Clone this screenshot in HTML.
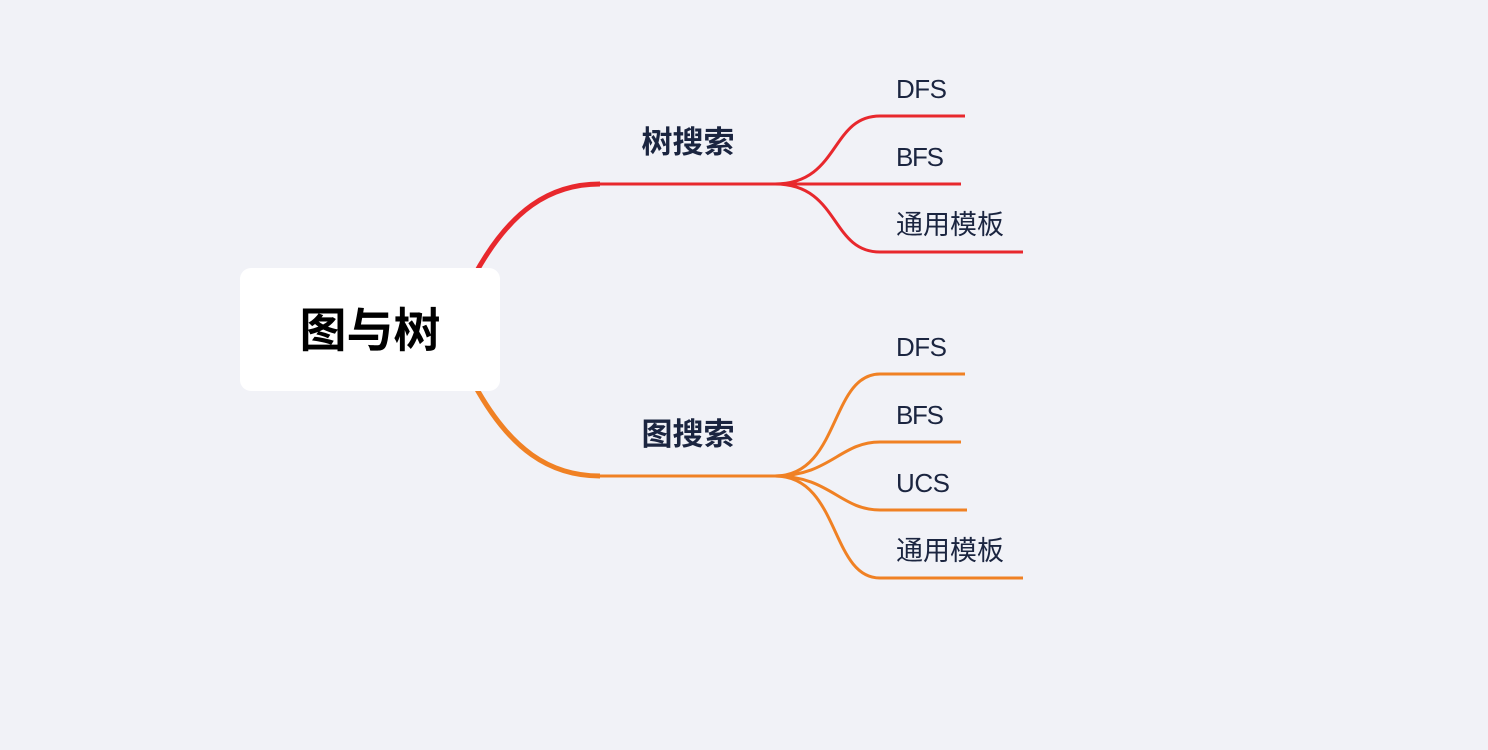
<!DOCTYPE html>
<html><head><meta charset="utf-8"><style>
html,body{margin:0;padding:0;background:#f1f2f7;width:1488px;height:750px;overflow:hidden}
svg{display:block}
text{font-family:"Liberation Sans","Noto Sans CJK SC",sans-serif;fill:#1b2540}
</style></head><body>
<svg width="1488" height="750" viewBox="0 0 1488 750">
<g fill="none" stroke-linecap="butt">
<path d="M474 276 C510 210 550 184 600 184" stroke="#e8282d" stroke-width="5"/>
<path d="M598 184 L780 184" stroke="#e8282d" stroke-width="3"/>
<g stroke="#e8282d" stroke-width="3">
<path d="M775 184 C840 184 830 116 880 116 L965 116"/>
<path d="M775 184 L961 184"/>
<path d="M775 184 C840 184 830 252 880 252 L1023 252"/>
</g>
<path d="M474 384 C510 450 550 476 600 476" stroke="#f08124" stroke-width="5"/>
<path d="M598 476 L780 476" stroke="#f08124" stroke-width="3"/>
<g stroke="#f08124" stroke-width="3">
<path d="M775 476 C840 476 830 374 880 374 L965 374"/>
<path d="M775 476 C830 476 840 442 880 442 L961 442"/>
<path d="M775 476 C830 476 840 510 880 510 L967 510"/>
<path d="M775 476 C840 476 830 578 880 578 L1023 578"/>
</g>
</g>
<rect x="240" y="268" width="260" height="123" rx="11" fill="#fff"/>
<text x="370" y="347" text-anchor="middle" font-size="47" font-weight="bold" style="fill:#000">图与树</text>
<text x="688" y="153" text-anchor="middle" font-size="31" font-weight="bold">树搜索</text>
<text x="688" y="445" text-anchor="middle" font-size="31" font-weight="bold">图搜索</text>
<g font-size="26">
<text x="896" y="98" textLength="51">DFS</text>
<text x="896" y="166" textLength="48">BFS</text>
<text x="896" y="234" font-size="27">通用模板</text>
<text x="896" y="356" textLength="51">DFS</text>
<text x="896" y="424" textLength="48">BFS</text>
<text x="896" y="492" textLength="54">UCS</text>
<text x="896" y="560" font-size="27">通用模板</text>
</g>
</svg>
</body></html>
